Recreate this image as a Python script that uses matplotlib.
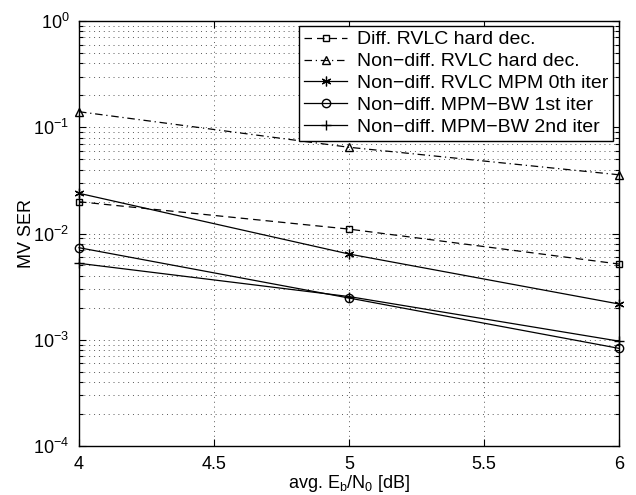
import numpy as np
import matplotlib.pyplot as plt
from matplotlib.ticker import LogLocator, NullFormatter

plt.rcParams['font.family'] = ['Liberation Sans', 'DejaVu Sans']
plt.rcParams['mathtext.fontset'] = 'custom'
plt.rcParams['mathtext.rm'] = 'Liberation Sans'
plt.rcParams['mathtext.it'] = 'Liberation Sans'

# Eb/N0 in dB
snr = [4, 5, 6]

# MV symbol error rates
diff_hard = [0.0199, 0.0110, 0.00516]
nondiff_hard = [0.140, 0.0648, 0.0357]
mpm_0th = [0.0239, 0.00641, 0.00217]
bw_1st = [0.00735, 0.00247, 0.00083]
bw_2nd = [0.00524, 0.00255, 0.00097]

labels = [
    "Diff. RVLC hard dec.",
    "Non\u2212diff. RVLC hard dec.",
    "Non\u2212diff. RVLC MPM 0th iter",
    "Non\u2212diff. MPM\u2212BW 1st iter",
    "Non\u2212diff. MPM\u2212BW 2nd iter",
]

fig = plt.figure(figsize=(6.36, 4.95), dpi=100)
ax = fig.add_axes([79 / 636, 1 - 446 / 495, 540 / 636, 425 / 495])

lw = 0.9
ax.semilogy(snr, diff_hard, "k--", marker="s", mfc="none", ms=5, lw=lw, dashes=(6, 4),
            clip_on=False, label=labels[0])
ax.semilogy(snr, nondiff_hard, "k-.", marker="^", mfc="none", ms=6, lw=lw, dashes=(6, 3, 1, 3),
            clip_on=False, label=labels[1])
ax.semilogy(snr, mpm_0th, "k-", marker=(6, 2, 0), ms=7, mew=0.9, lw=lw, clip_on=False, label=labels[2])
ax.semilogy(snr, bw_1st, "k-", marker="o", mfc="none", ms=6, lw=lw, clip_on=False, label=labels[3])
ax.semilogy(snr, bw_2nd, "k-", marker="+", ms=7, lw=lw, clip_on=False, label=labels[4])

ax.set_xlim(4, 6)
ax.set_ylim(1e-4, 1)
ax.set_xticks([4, 4.5, 5, 5.5, 6])
ax.set_xticklabels(["4", "4.5", "5", "5.5", "6"])
ax.yaxis.set_major_locator(LogLocator(base=10, numticks=10))
ax.yaxis.set_minor_locator(LogLocator(base=10, subs=np.arange(2, 10), numticks=20))
ax.yaxis.set_minor_formatter(NullFormatter())

ax.grid(True, which="major", linestyle=(0, (1, 4)), color="0.35", lw=0.7)
ax.grid(True, which="minor", axis="y", linestyle=(0, (1, 4)), color="0.35", lw=0.7)

ax.tick_params(which="both", direction="in", top=True, right=True, labelsize=13, width=0.8)
ax.tick_params(which="major", length=5, pad=7)
ax.tick_params(which="minor", length=3)
for s in ax.spines.values():
    s.set_linewidth(1.0)

ax.set_xlabel("avg. E$_\\mathrm{b}$/N$_\\mathrm{0}$ [dB]", fontsize=13, labelpad=0)
ax.set_ylabel("MV SER", fontsize=13)
ax.yaxis.set_label_coords(-0.082, 0.5)

leg = ax.legend(loc="upper right", bbox_to_anchor=(613 / 636, 1 - 26 / 495), bbox_transform=fig.transFigure,
                fontsize=14, handlelength=2.2, handletextpad=0.5, labelspacing=0.22,
                borderpad=0.25, borderaxespad=0, fancybox=False, framealpha=1)
leg.get_frame().set_edgecolor("black")
leg.get_frame().set_linewidth(1.0)
leg.set_zorder(5)

fig.savefig("out.png", dpi=100)
